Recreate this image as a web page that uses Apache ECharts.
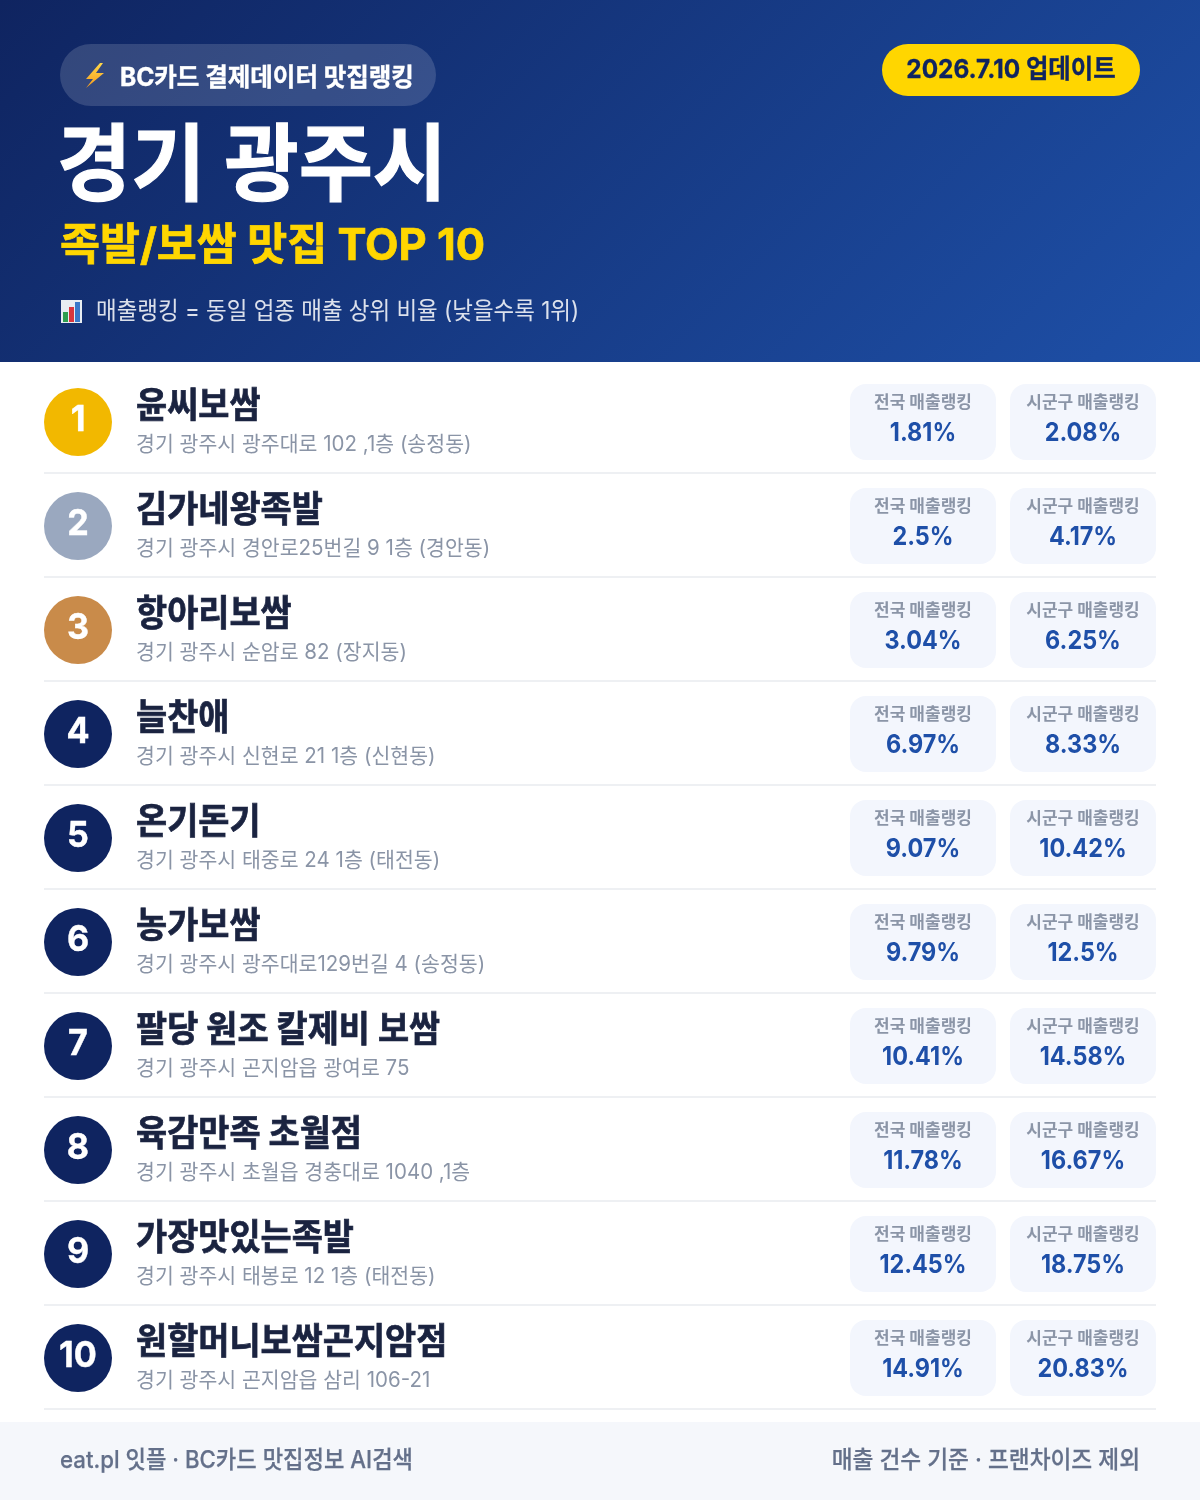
<!DOCTYPE html>
<html><head><meta charset="utf-8">
<style>html,body{margin:0;padding:0;background:#fff}#c{width:1200px;height:1500px}</style>
<script src="https://cdn.jsdelivr.net/npm/echarts@6/dist/echarts.min.js"></script>
</head><body><div id="c"></div>
<script>
const ranks = [1,2,3,4,5,6,7,8,9,10];
const names = ['윤씨보쌈','김가네왕족발','항아리보쌈','늘찬애','온기돈기','농가보쌈','팔당 원조 칼제비 보쌈','육감만족 초월점','가장맛있는족발','원할머니보쌈곤지암점'];
const addresses = ['경기 광주시 광주대로 102 ,1층 (송정동)','경기 광주시 경안로25번길 9 1층 (경안동)','경기 광주시 순암로 82 (장지동)','경기 광주시 신현로 21 1층 (신현동)','경기 광주시 태중로 24 1층 (태전동)','경기 광주시 광주대로129번길 4 (송정동)','경기 광주시 곤지암읍 광여로 75','경기 광주시 초월읍 경충대로 1040 ,1층','경기 광주시 태봉로 12 1층 (태전동)','경기 광주시 곤지암읍 삼리 106-21'];
const nationalRank = [1.81,2.5,3.04,6.97,9.07,9.79,10.41,11.78,12.45,14.91];
const localRank = [2.08,4.17,6.25,8.33,10.42,12.5,14.58,16.67,18.75,20.83];
const FONT = 'Inter,"Noto Sans CJK KR","Noto Sans",sans-serif';
const NAVY = '#0f2460', BLUE = '#1e4fa8', YEL = '#ffd600';
const medal = ['#f2b800','#9aa8bf','#c98b4a'];
const chart = echarts.init(document.getElementById('c'), null, {renderer:'canvas', width:1200, height:1500});

function t(x,y,text,size,weight,fill,align,sx,bold){
  const style = {text:text,font:weight+' '+size+'px '+FONT,fill:fill,textAlign:align||'left',textVerticalAlign:'middle'};
  if(bold){style.stroke=fill;style.lineWidth=bold;}
  return {type:'text',x:x,y:y,scaleX:sx||1,style:style};
}
function renderRow(params, api){
  const i = api.value(0);
  const c = api.coord([0,i]);
  const cy = c[1];
  const kids = [];
  kids.push({type:'rect',shape:{x:44,y:cy+50,width:1112,height:2},style:{fill:'#eef0f3'}});
  kids.push({type:'circle',shape:{cx:78,cy:cy,r:34},style:{fill:i<3?medal[i]:NAVY}});
  kids.push(t(78,cy-2,String(ranks[i]),36,700,'#fff','center',0.95,0.4));
  kids.push(t(136,cy-14.5,names[i],36,700,'#1a2340','left',0.94,0.7));
  kids.push(t(136,cy+23,addresses[i],21,400,'#8a94a6','left',0.977));
  [[850,'전국 매출랭킹',nationalRank[i]],[1010,'시군구 매출랭킹',localRank[i]]].forEach(function(d){
    kids.push({type:'rect',shape:{x:d[0],y:cy-38,width:146,height:76,r:16},style:{fill:'#f3f6fd'}});
    kids.push(t(d[0]+73,cy-19,d[1],17,700,'#8b95a7','center'));
    kids.push(t(d[0]+73,cy+11,d[2]+'%',26,700,BLUE,'center',0.9));
  });
  return {type:'group',children:kids};
}
chart.setOption({
  animation:false,
  backgroundColor:'#fff',
  grid:{left:0,top:370,width:1200,height:1040,containLabel:false},
  xAxis:{type:'value',min:0,max:1200,show:false},
  yAxis:{type:'category',inverse:true,data:ranks,show:false},
  graphic:[
    {type:'rect',z:-1,shape:{x:0,y:0,width:1200,height:362},style:{fill:new echarts.graphic.LinearGradient(209.5,-209.5,990.5,571.5,[{offset:0,color:'#0f2460'},{offset:1,color:'#1e50a8'}],true)}},
    {type:'rect',shape:{x:60,y:44,width:376,height:62,r:31},style:{fill:'rgba(255,255,255,0.15)'}},
    {type:'polygon',shape:{points:[[100,63],[86,79],[93,79],[86,88],[104,73],[96,73],[103,63]]},style:{fill:new echarts.graphic.LinearGradient(0,0,0,1,[{offset:0,color:'#ffd84a'},{offset:1,color:'#f59a1c'}])}},
    t(120,78,'BC카드 결제데이터 맛집랭킹',25,700,'#fff','left',0.98,0.4),
    {type:'rect',shape:{x:882,y:44,width:258,height:52,r:26},style:{fill:YEL}},
    t(1011,70,'2026.7.10 업데이트',26,700,NAVY,'center',0.938,0.3),
    t(57,169,'경기 광주시',84,700,'#fff','left',0.96,1.2),
    t(60,247,'족발/보쌈 맛집 TOP 10',44,700,YEL,'left',0.988,0.7),
    {type:'rect',shape:{x:61,y:300,width:21,height:23},style:{fill:'#e8edf2'}},
    {type:'rect',shape:{x:63,y:312,width:5,height:10},style:{fill:'#2e9e4f'}},
    {type:'rect',shape:{x:69,y:307,width:5,height:15},style:{fill:'#d9363e'}},
    {type:'rect',shape:{x:75,y:302,width:5,height:20},style:{fill:'#3a78c9'}},
    t(96,312,'매출랭킹 = 동일 업종 매출 상위 비율 (낮을수록 1위)',24,400,'rgba(255,255,255,0.85)','left',0.935),
    {type:'rect',shape:{x:0,y:1422,width:1200,height:78},style:{fill:'#f5f7fb'}},
    t(60,1461,'eat.pl 잇플 · BC카드 맛집정보 AI검색',24,500,'#64708a','left',0.926,0.25),
    t(1140,1461,'매출 건수 기준 · 프랜차이즈 제외',24,500,'#64708a','right',0.945,0.25)
  ],
  series:[{type:'custom',coordinateSystem:'cartesian2d',renderItem:renderRow,clip:false,silent:true,
    encode:{x:1,y:0},data:ranks.map(function(r,i){return [i,nationalRank[i]];})}]
});
</script></body></html>
